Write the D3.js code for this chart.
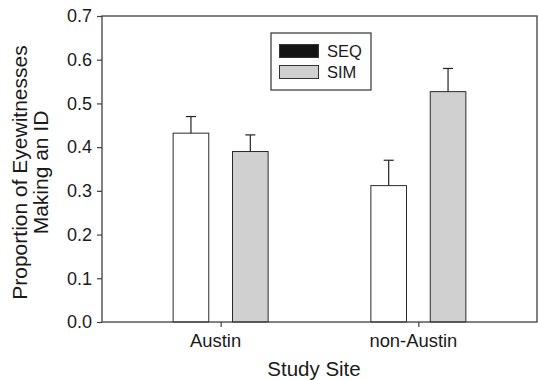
<!DOCTYPE html>
<html>
<head>
<meta charset="utf-8">
<script src="https://cdn.jsdelivr.net/npm/d3@7"></script>
<style>
  html, body { margin: 0; padding: 0; background: #fff; }
  svg { display: block; font-family: "Liberation Sans", Arial, Helvetica, sans-serif; }
</style>
</head>
<body>
<svg id="chart" width="538" height="380"></svg>
<script>
const categories = ["Austin", "non-Austin"];
const seriesNames = ["SEQ", "SIM"];
const seqValues = [0.432, 0.312];
const seqErrors = [0.038, 0.058];
const simValues = [0.390, 0.527];
const simErrors = [0.038, 0.053];
const yTicks = [0.0, 0.1, 0.2, 0.3, 0.4, 0.5, 0.6, 0.7];

const svg = d3.select("#chart");
const mLeft = 102, mRight = 537, mTop = 16, mBottom = 322;

const x = d3.scalePoint().domain(categories).range([mLeft, mRight]).padding(0.6);
const xs = d3.scaleBand().domain(seriesNames).range([-47.5, 47.5]).paddingInner(0.4).paddingOuter(0);
const y = d3.scaleLinear().domain([0, 0.7]).range([mBottom, mTop]);

const fills = { SEQ: "#ffffff", SIM: "#d0d0d0" };
const legendFills = { SEQ: "#141414", SIM: "#d0d0d0" };

const data = [];
categories.forEach((c, i) => {
  data.push({ cat: c, s: "SEQ", v: seqValues[i], e: seqErrors[i] });
  data.push({ cat: c, s: "SIM", v: simValues[i], e: simErrors[i] });
});

// bars
svg.append("g").selectAll("rect").data(data).join("rect")
  .attr("x", d => x(d.cat) + xs(d.s))
  .attr("y", d => y(d.v))
  .attr("width", xs.bandwidth())
  .attr("height", d => y(0) - y(d.v))
  .attr("fill", d => fills[d.s])
  .attr("stroke", "#2a2a2a")
  .attr("stroke-width", 1);

// error bars (upper only)
const eg = svg.append("g").attr("stroke", "#222").attr("stroke-width", 1.2);
data.forEach(d => {
  const cx = x(d.cat) + xs(d.s) + xs.bandwidth() / 2;
  eg.append("line").attr("x1", cx).attr("x2", cx).attr("y1", y(d.v)).attr("y2", y(d.v + d.e));
  eg.append("line").attr("x1", cx - 5).attr("x2", cx + 5).attr("y1", y(d.v + d.e)).attr("y2", y(d.v + d.e));
});

// frame
svg.append("rect")
  .attr("x", mLeft).attr("y", mTop)
  .attr("width", mRight - mLeft).attr("height", mBottom - mTop)
  .attr("fill", "none").attr("stroke", "#404040").attr("stroke-width", 1.3);

// y axis
const yAxis = svg.append("g").attr("transform", `translate(${mLeft},0)`)
  .call(d3.axisLeft(y).tickValues(yTicks).tickFormat(d3.format(".1f")).tickSize(5).tickPadding(5));
yAxis.select(".domain").remove();
yAxis.selectAll("line").attr("stroke", "#404040").attr("stroke-width", 1.2);
yAxis.selectAll("text").attr("font-size", 18).attr("fill", "#1a1a1a").attr("font-family", "Liberation Sans, Arial, sans-serif");

// x axis
const xAxis = svg.append("g").attr("transform", `translate(0,${mBottom})`)
  .call(d3.axisBottom(x).tickSize(5).tickPadding(7));
xAxis.select(".domain").remove();
xAxis.selectAll("line").attr("stroke", "#404040").attr("stroke-width", 1.2);
xAxis.selectAll("text").attr("font-size", 18.4).attr("fill", "#1a1a1a").attr("dx", -5.5)
  .attr("font-family", "Liberation Sans, Arial, sans-serif");

// axis titles
svg.append("text")
  .attr("x", 314).attr("y", 376)
  .attr("text-anchor", "middle").attr("font-size", 20.5).attr("fill", "#1a1a1a")
  .text("Study Site");

const yt = svg.append("text")
  .attr("transform", `translate(0,172.5) rotate(-90)`)
  .attr("text-anchor", "middle").attr("font-size", 21).attr("fill", "#1a1a1a");
yt.append("tspan").attr("x", 0).attr("y", 27).text("Proportion of Eyewitnesses");
yt.append("tspan").attr("x", 0).attr("y", 48).text("Making an ID");

// legend
const lg = svg.append("g");
lg.append("rect").attr("x", 271).attr("y", 33).attr("width", 100).attr("height", 57)
  .attr("fill", "#fff").attr("stroke", "#333").attr("stroke-width", 1.2);
seriesNames.forEach((s, i) => {
  lg.append("rect").attr("x", 279.5).attr("y", 44.5 + i * 21).attr("width", 39).attr("height", 13)
    .attr("fill", legendFills[s]).attr("stroke", "#333").attr("stroke-width", 1);
  lg.append("text").attr("x", 327).attr("y", 57 + i * 21)
    .attr("font-size", 16.5).attr("fill", "#1a1a1a").text(s);
});
</script>
</body>
</html>
